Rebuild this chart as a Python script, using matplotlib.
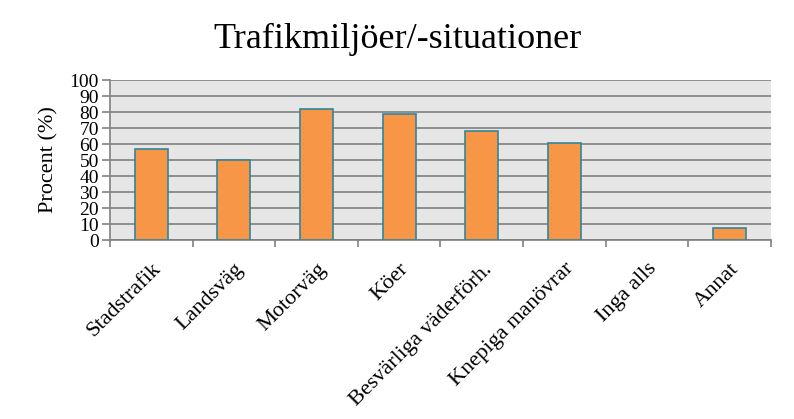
import matplotlib.pyplot as plt

categories = ['Stadstrafik', 'Landsväg', 'Motorväg', 'Köer',
              'Besvärliga väderförh.', 'Knepiga manövrar', 'Inga alls', 'Annat']
values = [57, 50, 82, 78.5, 68, 60.5, 0, 7.3]
yticks = list(range(0, 101, 10))

plt.rcParams['font.family'] = ['Liberation Serif', 'DejaVu Serif']

fig = plt.figure(figsize=(7.94, 4.19), dpi=100)
ax = fig.add_axes([0.1385, 0.4272, 0.8325, 0.3818])

x = list(range(len(categories)))
edge_w = [1.2 if v > 0 else 0 for v in values]
ax.bar(x, values, width=0.4, color='#F79646', edgecolor='#31859C', linewidth=edge_w, zorder=3)

ax.set_facecolor('#E6E6E6')
ax.set_xlim(-0.5, len(categories) - 0.5)
ax.set_ylim(0, 100)
ax.set_yticks(yticks)
ax.yaxis.grid(True, color='#808080', linewidth=1.2, zorder=1)
ax.set_axisbelow(True)

# ticks sit on category boundaries, labels at centers
ax.set_xticks([i - 0.5 for i in range(len(categories) + 1)])
ax.set_xticklabels([])
ax.set_xticks(x, minor=True)
ax.set_xticklabels(categories, minor=True, rotation=45, ha='right',
                   rotation_mode='anchor', fontsize=16)
ax.tick_params(axis='x', which='minor', length=0, pad=14)
ax.tick_params(axis='x', which='major', length=5, color='#808080', width=1.2)
ax.tick_params(axis='y', length=6, color='#808080', width=1.2, labelsize=14, pad=2)

for s in ['top', 'right']:
    ax.spines[s].set_visible(False)
for s in ['left', 'bottom']:
    ax.spines[s].set_color('#808080')
    ax.spines[s].set_linewidth(1.2)

ax.set_ylabel('Procent (%)', fontsize=16, labelpad=8)
fig.text(0.5, 0.905, 'Trafikmiljöer/-situationer', ha='center', va='center', fontsize=26)

fig.savefig('out.png', dpi=100)
